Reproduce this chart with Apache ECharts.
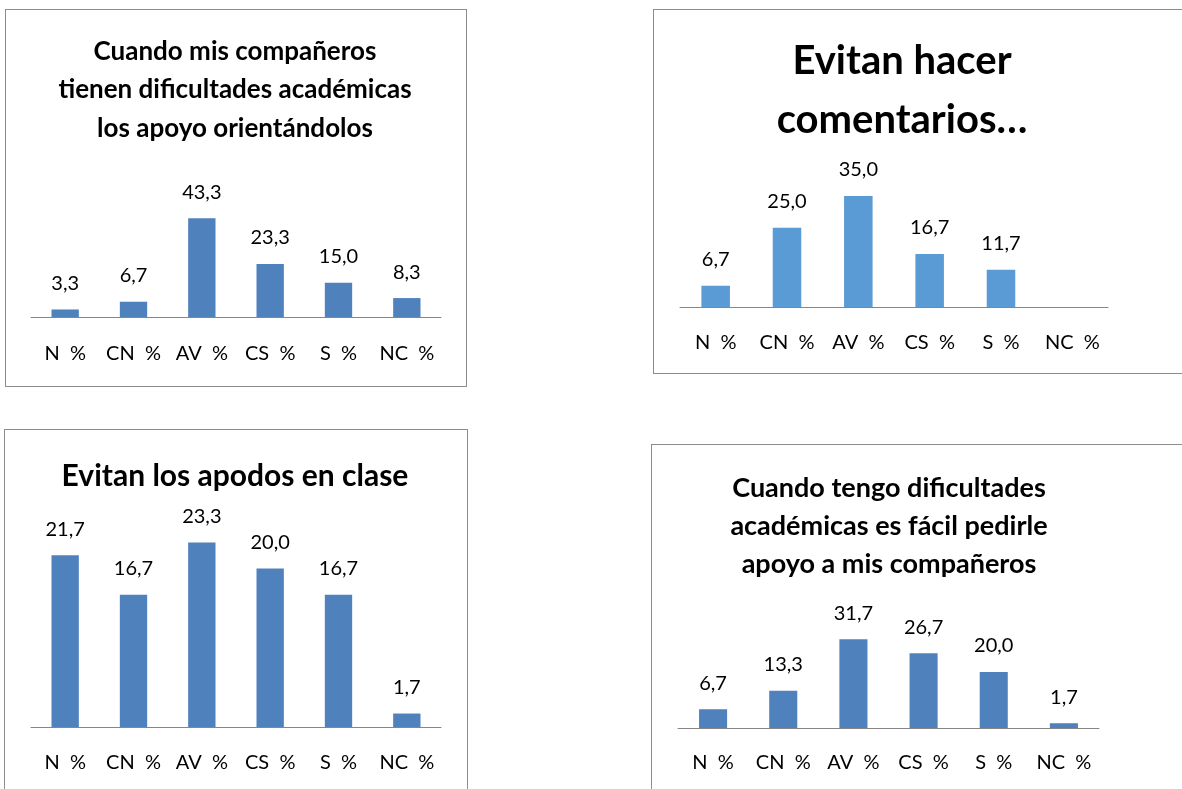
<!DOCTYPE html>
<html>
<head>
<meta charset="utf-8">
<script src="https://cdn.jsdelivr.net/npm/echarts@6/dist/echarts.min.js"></script>
<style>
  html, body { margin: 0; padding: 0; background: #fff; overflow: hidden; }
  body { width: 1182px; height: 789px; position: relative; }
  .panel { position: absolute; border: 1px solid #8c8c8c; box-sizing: border-box; background: #fff; }
  #p1 { left: 5px; top: 9px; width: 462px; height: 378px; }
  #p2 { left: 653px; top: 9px; width: 560px; height: 365px; }
  #p3 { left: 4px; top: 429px; width: 464px; height: 380px; }
  #p4 { left: 651px; top: 444px; width: 560px; height: 370px; }
</style>
</head>
<body>
<div id="p1" class="panel"></div>
<div id="p2" class="panel"></div>
<div id="p3" class="panel"></div>
<div id="p4" class="panel"></div>
<script>
// categorias comunes
const categorias = ['N  %', 'CN  %', 'AV  %', 'CS  %', 'S  %', 'NC  %'];

// valores de cada grafico
const apoyoOrientando = [3.3, 6.7, 43.3, 23.3, 15.0, 8.3];
const evitanComentarios = [6.7, 25.0, 35.0, 16.7, 11.7, null];
const evitanApodos = [21.7, 16.7, 23.3, 20.0, 16.7, 1.7];
const pedirApoyo = [6.7, 13.3, 31.7, 26.7, 20.0, 1.7];

const FONT = 'Lato';

function dibujar(id, cfg) {
  const chart = echarts.init(document.getElementById(id), null, { renderer: 'canvas' });
  chart.setOption({
    animation: false,
    textStyle: { fontFamily: FONT },
    title: {
      text: cfg.titulo,
      left: cfg.tituloX,
      top: cfg.tituloY,
      textAlign: 'center',
      textStyle: {
        fontFamily: FONT,
        fontWeight: 'bold',
        fontSize: cfg.tituloSize,
        lineHeight: cfg.tituloLH,
        color: '#000'
      }
    },
    grid: cfg.grid,
    xAxis: {
      type: 'category',
      data: categorias,
      axisLine: { lineStyle: { color: '#868686', width: 1 } },
      axisTick: { show: false },
      axisLabel: { color: '#000', fontSize: 20, fontFamily: FONT, margin: cfg.margen, interval: 0 }
    },
    yAxis: {
      type: 'value',
      min: 0,
      max: cfg.max,
      show: false,
      splitLine: { show: false }
    },
    series: [{
      type: 'bar',
      data: cfg.datos,
      barWidth: '40%',
      itemStyle: { color: cfg.color },
      label: {
        show: true,
        position: 'top',
        distance: 16,
        color: '#000',
        fontSize: 20,
        fontFamily: FONT,
        formatter: p => p.value == null ? '' : p.value.toFixed(1).replace('.', ',')
      }
    }]
  });
}

dibujar('p1', {
  titulo: 'Cuando mis compañeros\ntienen dificultades académicas\nlos apoyo orientándolos',
  tituloX: 224, tituloY: 17, tituloSize: 26, tituloLH: 38.5,
  grid: { left: 25, top: 193, width: 410, height: 114 },
  max: 50, margen: 27, color: '#4F81BD', datos: apoyoOrientando
});

dibujar('p2', {
  titulo: 'Evitan hacer\ncomentarios…',
  tituloX: 243, tituloY: 17, tituloSize: 40, tituloLH: 59,
  grid: { left: 26, top: 170, width: 428, height: 127 },
  max: 40, margen: 26, color: '#5B9BD5', datos: evitanComentarios
});

dibujar('p3', {
  titulo: 'Evitan los apodos en clase',
  tituloX: 225, tituloY: 21, tituloSize: 30, tituloLH: 40,
  grid: { left: 26, top: 99, width: 410, height: 198 },
  max: 25, margen: 26, color: '#4F81BD', datos: evitanApodos
});

dibujar('p4', {
  titulo: 'Cuando tengo dificultades\nacadémicas es fácil pedirle\napoyo a mis compañeros',
  tituloX: 232, tituloY: 19, tituloSize: 27, tituloLH: 38,
  grid: { left: 26, top: 171, width: 421, height: 112 },
  max: 40, margen: 25, color: '#4F81BD', datos: pedirApoyo
});
</script>
</body>
</html>
